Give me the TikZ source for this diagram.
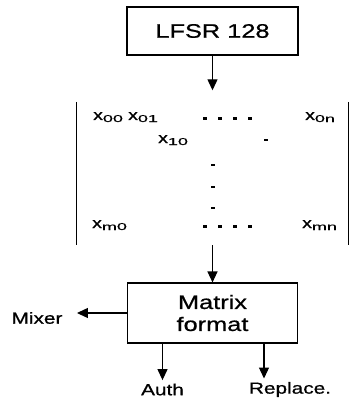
\documentclass[tikz,border=0pt]{standalone}
\usepackage{fontspec}
\setmainfont[FakeStretch=1.3,FakeBold=0.8]{Liberation Sans}
\newfontfamily\subfont[FakeStretch=1.8,FakeBold=0.6]{Liberation Sans}
\usepackage{tikz}
\usetikzlibrary{arrows.meta,positioning,calc}
\newcommand{\mel}[2]{#1\raisebox{-2pt}{\fontsize{10}{10}\subfont #2}}
\begin{document}
\begin{tikzpicture}[x=1pt,y=-1pt,
  blk/.style={draw,line width=1.1pt,minimum width=171pt,minimum height=48pt,
    font=\fontsize{19.5}{22}\selectfont,align=center,inner sep=0pt},
  arr/.style={-{Triangle[length=11pt,width=10pt]},line width=1.2pt},
  bar/.style={line width=1.3pt},
  lbl/.style={font=\fontsize{16}{18}\selectfont},
  ent/.style={font=\fontsize{15}{16}\selectfont,anchor=base west,inner sep=0pt}
]
  \useasboundingbox (0,0) rectangle (349,401);
  \node[blk] (lfsr) at (212.5,31) {LFSR 128};
  % matrix
  \node[minimum width=271pt,minimum height=143pt,inner sep=0pt] (mtx) at (212.5,173.5) {};
  \draw[bar] (mtx.north west) -- (mtx.south west);
  \draw[bar] (mtx.north east) -- (mtx.south east);
  \node[ent] (x00) at (93,120) {\mel{x}{00}};
  \node[ent] (x01) at (128,120) {\mel{x}{01}};
  \node[ent] (x0n) at (305,120) {\mel{x}{0n}};
  \node[ent] (x10) at (158,143) {\mel{x}{10}};
  \node[ent] (xm0) at (92,228) {\mel{x}{m0}};
  \node[ent] (xmn) at (302,228) {\mel{x}{mn}};
  \foreach \x/\y in {205/118.5,220/118.5,235/118.5,250/118.5,266/140,
      213/165,213/187,213/208,205/226.5,220/226.5,235/226.5,250/226.5}
    \fill (\x-1.6,\y-1.4) rectangle ++(3.2,2.8);
  \node[blk,minimum width=170pt,minimum height=60pt] (fmt) at (212.5,313) {Matrix\\format};
  \node[lbl] (mixer) at (37,318) {Mixer};
  \node[lbl] (auth) at (162.5,389.5) {Auth};
  \node[lbl] (rep) at (290,389.5) {Replace.};
  \draw[arr,shorten >=11.5pt] (lfsr) -- (mtx);
  \draw[arr] (mtx.south) -- (fmt);
  \draw[arr,shorten >=11pt] (fmt.west) -- (fmt.west -| mixer.east);
  \draw[arr] (fmt.south -| auth) -- (auth);
  \draw[arr] ([xshift=51.5pt]fmt.south) -- ([xshift=51.5pt]fmt.south |- rep.north);
\end{tikzpicture}
\end{document}
